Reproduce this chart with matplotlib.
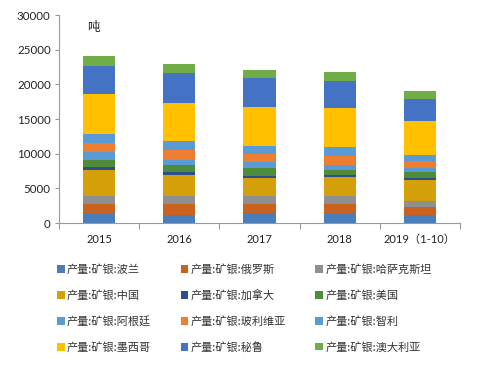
import matplotlib
matplotlib.use("Agg")
import matplotlib.pyplot as plt
import numpy as np

plt.rcParams['font.family'] = ['Lato', 'Noto Sans CJK SC', 'DejaVu Sans']

years = ["2015", "2016", "2017", "2018", "2019（1-10）"]
series_names = ["产量:矿银:波兰", "产量:矿银:俄罗斯", "产量:矿银:哈萨克斯坦",
                "产量:矿银:中国", "产量:矿银:加拿大", "产量:矿银:美国",
                "产量:矿银:阿根廷", "产量:矿银:玻利维亚", "产量:矿银:智利",
                "产量:矿银:墨西哥", "产量:矿银:秘鲁", "产量:矿银:澳大利亚"]

poland     = [1300, 1200, 1440, 1350, 1200]
russia     = [1440, 1540, 1350, 1440, 1110]
kazakhstan = [1200, 1200, 1150, 1060, 815]
china      = [3750, 3030, 2550, 2790, 3025]
canada     = [340, 390, 340, 290, 290]
usa        = [1010, 960, 1110, 770, 910]
argentina  = [1150, 810, 820, 670, 580]
bolivia    = [1350, 1350, 1250, 1345, 1060]
chile      = [1340, 1350, 1150, 1205, 870]
mexico     = [5720, 5480, 5530, 5620, 4900]
peru       = [4090, 4320, 4230, 3990, 3120]
australia  = [1350, 1350, 1100, 1200, 1110]

data = [poland, russia, kazakhstan, china, canada, usa,
        argentina, bolivia, chile, mexico, peru, australia]
colors = ["#4A7EBB", "#C9621F", "#8F8F8F", "#D4A00A", "#2A4E8E", "#4E8B3A",
          "#5B9BD5", "#ED7D31", "#5B9BD5", "#FFC000", "#4472C4", "#70AD47"]

fig = plt.figure(figsize=(5, 3.75), dpi=100)
ax = fig.add_axes([0.118, 0.405, 0.802, 0.555])

x = np.arange(len(years))
bottom = np.zeros(len(years))
handles = []
for name, vals, c in zip(series_names, data, colors):
    h = ax.bar(x, vals, width=0.4, bottom=bottom, color=c, label=name, zorder=2)
    handles.append(h)
    bottom += np.array(vals)

ax.set_xlim(-0.5, len(years) - 0.5)
ax.set_ylim(0, 30000)
ax.set_yticks(np.arange(0, 30001, 5000))
ax.set_xticks(x)
ax.set_xticklabels(years)
ax.set_xticks(np.arange(-0.5, len(years), 1), minor=True)
ax.tick_params(axis='x', which='major', length=0, pad=8, labelsize=8, labelcolor='#222222')
ax.tick_params(axis='x', which='minor', length=4, color='#999999', width=0.8)
ax.tick_params(axis='y', length=3, color='#999999', width=0.8, labelsize=8.3, labelcolor='#222222', pad=3)
for s in ['top', 'right']:
    ax.spines[s].set_visible(False)
for s in ['left', 'bottom']:
    ax.spines[s].set_color('#999999')
    ax.spines[s].set_linewidth(0.8)

ax.text(0.07, 0.97, "吨", transform=ax.transAxes, fontsize=9,
        family=['Noto Sans CJK SC'], va='top', ha='left', color='#222222')

# legend filled row by row (3 columns)
ncol, nrow = 3, 4
order = [r * ncol + c for c in range(ncol) for r in range(nrow)]
leg = fig.legend(handles=[handles[i] for i in order], loc='upper left',
                 bbox_to_anchor=(0.094, 0.322),
                 ncol=ncol, frameon=False,
                 prop={'family': ['Noto Sans CJK SC'], 'size': 8},
                 handlelength=0.7, handleheight=0.7, handletextpad=0.2,
                 columnspacing=2.65, labelspacing=1.35)
for t in leg.get_texts():
    t.set_color('#333333')

fig.savefig("out.png", dpi=100)
